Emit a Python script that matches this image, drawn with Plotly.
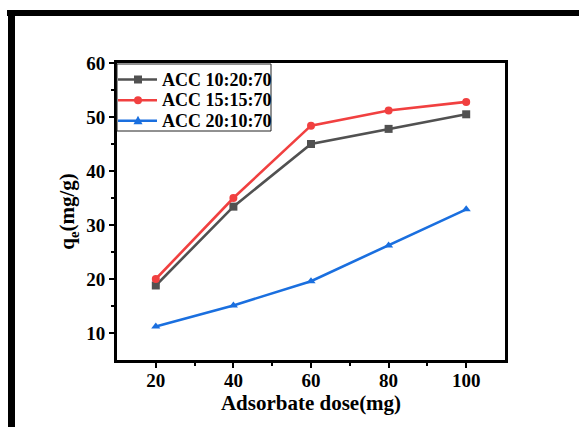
import plotly.graph_objects as go

# Adsorbate dose (mg) and equilibrium adsorption capacity q_e (mg/g)
dose = [20, 40, 60, 80, 100]
qe_10_20_70 = [18.8, 33.4, 45.0, 47.8, 50.5]
qe_15_15_70 = [20.0, 35.0, 48.4, 51.2, 52.8]
qe_20_10_70 = [11.2, 15.1, 19.6, 26.2, 32.9]

series_names = ["ACC 10:20:70", "ACC 15:15:70", "ACC 20:10:70"]
series_values = [qe_10_20_70, qe_15_15_70, qe_20_10_70]
series_colors = ["#515151", "#F14040", "#1A6FDF"]
series_symbols = ["square", "circle", "triangle-up"]

W, H = 579, 427
ML, MR, MT, MB = 117, 74, 63, 67
FONT = "Liberation Serif, Times New Roman, serif"

fig = go.Figure()
for name, vals, col, sym in zip(series_names, series_values, series_colors, series_symbols):
    fig.add_trace(go.Scatter(
        x=dose, y=vals, name=name, mode="lines+markers",
        line=dict(color=col, width=2.6),
        marker=dict(symbol=sym, size=8, color=col),
        showlegend=False,
    ))

# Helpers: pixel positions on the page -> paper coordinates
pw, ph = W - ML - MR, H - MT - MB
def px(x):
    return (x - ML) / pw
def py(y):
    return (H - MB - y) / ph

shapes = []
annotations = []

# Page frame (top and left bars)
for x0, y0, x1, y1 in [(7, 10, 579, 16), (8, 10, 15, 427)]:
    shapes.append(dict(type="rect", xref="paper", yref="paper",
                       x0=px(x0), x1=px(x1), y0=py(y1), y1=py(y0),
                       fillcolor="black", line=dict(width=0), layer="above"))

# Boxed legend in the upper-left corner
LEG_X0, LEG_X1, LEG_Y0, LEG_Y1 = 117, 271, 64, 131
shapes.append(dict(type="rect", xref="paper", yref="paper",
                   x0=px(LEG_X0), x1=px(LEG_X1), y0=py(LEG_Y1), y1=py(LEG_Y0),
                   fillcolor="white", line=dict(color="#222222", width=1), layer="above"))
row_y = [79.5, 100.2, 120.8]
for name, col, sym, yc in zip(series_names, series_colors, series_symbols, row_y):
    shapes.append(dict(type="line", xref="paper", yref="paper",
                       x0=px(118), x1=px(157), y0=py(yc), y1=py(yc),
                       line=dict(color=col, width=2.6), layer="above"))
    mx, r = 138, 4
    if sym == "square":
        shapes.append(dict(type="rect", xref="paper", yref="paper",
                           x0=px(mx - r), x1=px(mx + r), y0=py(yc + r), y1=py(yc - r),
                           fillcolor=col, line=dict(width=0), layer="above"))
    elif sym == "circle":
        shapes.append(dict(type="circle", xref="paper", yref="paper",
                           x0=px(mx - r), x1=px(mx + r), y0=py(yc + r), y1=py(yc - r),
                           fillcolor=col, line=dict(width=0), layer="above"))
    else:
        path = "M {} {} L {} {} L {} {} Z".format(
            px(mx - r - 0.5), py(yc + r - 0.5), px(mx + r + 0.5), py(yc + r - 0.5),
            px(mx), py(yc - r - 1))
        shapes.append(dict(type="path", xref="paper", yref="paper", path=path,
                           fillcolor=col, line=dict(width=0), layer="above"))
    annotations.append(dict(xref="paper", yref="paper", x=px(160), y=py(yc),
                            xanchor="left", yanchor="middle", showarrow=False,
                            text=name,
                            font=dict(family=FONT, size=18, color="black", weight="bold")))

axis_common = dict(
    showline=True, linecolor="black", linewidth=3, mirror=True,
    ticks="outside", ticklen=5, tickwidth=2, tickcolor="black",
    showgrid=False, zeroline=False,
    tickfont=dict(family=FONT, size=19, color="black", weight="bold"),
)

fig.update_layout(
    width=W, height=H,
    margin=dict(l=ML, r=MR, t=MT, b=MB),
    paper_bgcolor="white", plot_bgcolor="white",
    font=dict(family=FONT, color="black"),
    shapes=shapes,
    annotations=annotations,
    showlegend=False,
    xaxis=dict(
        range=[10, 110], tickvals=[20, 40, 60, 80, 100],
        ticklabelstandoff=-4,
        minor=dict(tickvals=[30, 50, 70, 90], ticks="outside", ticklen=3,
                   tickwidth=2, tickcolor="black"),
        title=dict(text="Adsorbate dose(mg)", standoff=4,
                   font=dict(family=FONT, size=21, color="black", weight="bold")),
        **axis_common,
    ),
    yaxis=dict(
        range=[5, 60], tickvals=[10, 20, 30, 40, 50, 60],
        minor=dict(tickvals=[15, 25, 35, 45, 55], ticks="outside", ticklen=3,
                   tickwidth=2, tickcolor="black"),
        title=dict(text="q<sub>e</sub>(mg/g)", standoff=6,
                   font=dict(family=FONT, size=21, color="black", weight="bold")),
        **axis_common,
    ),
)

fig.write_html("out.html")
